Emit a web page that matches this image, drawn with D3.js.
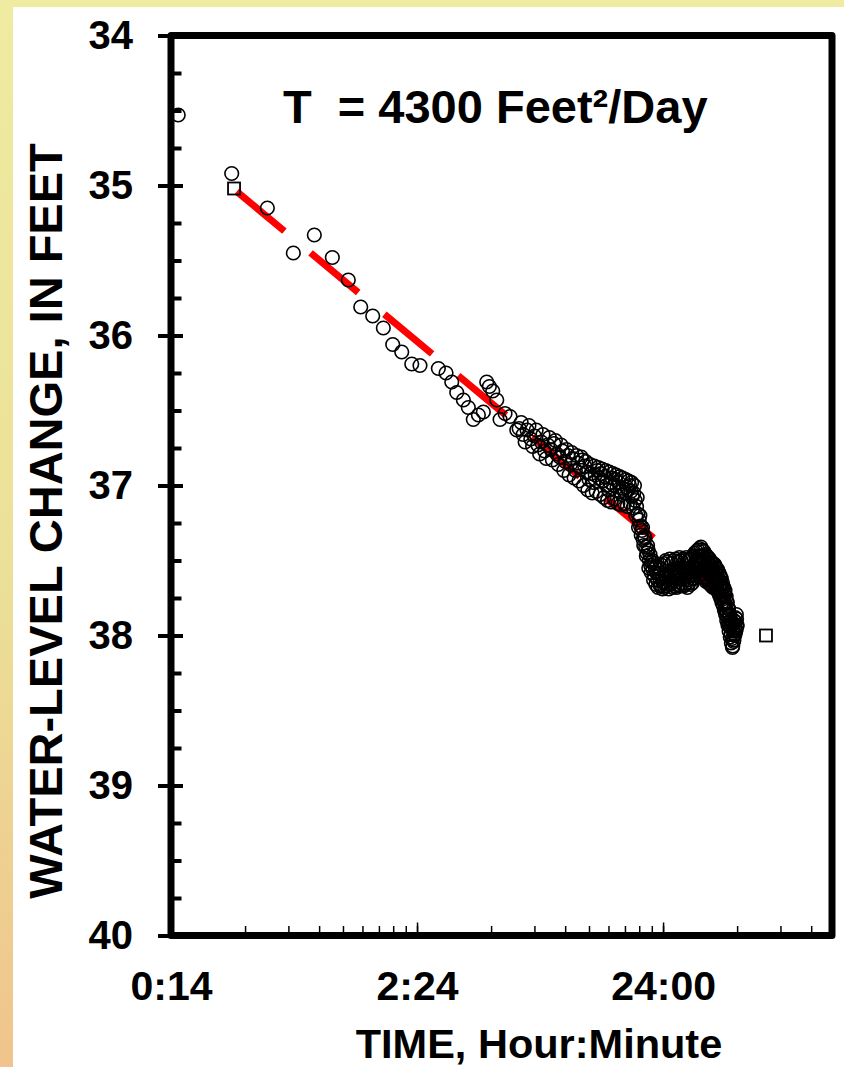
<!DOCTYPE html>
<html>
<head>
<meta charset="utf-8">
<script src="https://cdn.jsdelivr.net/npm/d3@7"></script>
<style>
html,body{margin:0;padding:0;}
body{width:844px;height:1067px;overflow:hidden;}
text{font-family:"Liberation Sans",Arial,Helvetica,sans-serif;font-weight:bold;fill:#000;}
</style>
</head>
<body>
<div id="chart"></div>
<script>
// measured water levels, time in days since pumping started
var obsTime = [
  0.0107,0.01765,0.02464,0.03142,0.03824,0.04526,0.05256,0.05904,0.06604,0.07295,
  0.07964,0.08666,0.09517,0.1028,0.1221,0.1312,0.1384,0.1450,0.1543,0.1616,
  0.1693,0.1776,0.1860,0.1920,0.1968,0.2031,0.2109,0.2175,0.2279,0.2388,0.2543,
  0.26,0.27,0.28,0.29,0.30,0.31,0.32,0.33,0.34,0.35,
  0.36,0.37,0.38,0.39,0.40,0.41,0.42,0.43,0.44,0.45,
  0.46,0.47,0.48,0.49,0.50,0.51,0.52,0.53,0.54,0.55,
  0.56,0.57,0.58,0.59,0.60,0.61,0.62,0.63,0.64,0.65,
  0.66,0.67,0.68,0.69,0.70,0.71,0.72,0.73,0.74,0.75,
  0.76,0.77,0.78,0.79,0.80,
  0.81,0.82,0.83,0.84,0.85,0.86,0.87,0.88,0.89,0.90,
  0.91,0.92,0.93,0.94,0.95,0.96,0.97,0.98,0.99,1.00,
  1.01,1.02,1.03,1.04,1.05,1.06,1.07,1.08,1.09,1.10,
  1.11,1.12,1.13,1.14,1.15,1.16,1.17,1.18,1.19,1.20,
  1.21,1.22,1.23,1.24,1.25,1.26,1.27,1.28,1.29,1.30,
  1.31,1.32,1.33,1.34,1.35,1.36,1.37,1.38,1.39,1.40,
  1.41,1.42,1.43,1.44,1.45,1.46,1.47,1.48,1.49,1.50,
  1.51,1.52,1.53,1.54,1.55,1.56,1.57,1.58,1.59,1.60,
  1.61,1.62,1.63,1.64,1.65,1.66,1.67,1.68,1.69,1.70,
  1.71,1.72,1.73,1.74,1.75,1.76,1.77,1.78,1.79,1.80,
  1.81,1.82,1.83,1.84,1.85,1.86,1.87,1.88,1.89,1.90,
  1.91,1.92,1.93,1.94,1.95,1.96,1.97,1.98,1.99,2.00
];
var obsLevel = [
  34.53,34.92,35.15,35.45,35.33,35.48,35.63,35.81,35.87,35.95,
  36.06,36.11,36.19,36.20,36.22,36.25,36.31,36.38,36.43,36.48,
  36.56,36.53,36.51,36.31,36.34,36.37,36.43,36.56,36.52,36.54,36.63,
  36.62,36.66,36.63,36.69,36.67,36.73,36.71,36.77,36.73,36.76,
  36.72,36.79,36.81,36.77,36.84,36.80,36.86,36.82,36.90,36.85,
  36.88,36.83,36.87,36.91,36.96,36.92,36.98,36.93,36.90,36.95,
  36.92,36.97,36.94,37.00,37.03,36.98,36.95,37.00,36.96,37.01,
  36.98,37.04,37.06,37.02,37.05,37.01,37.03,37.00,37.04,37.07,
  37.05,37.10,37.14,37.19,37.23,
  37.27,37.30,37.36,37.34,37.41,37.45,37.43,37.50,37.53,37.51,
  37.56,37.60,37.55,37.58,37.63,37.59,37.62,37.66,37.61,37.64,
  37.65,37.60,37.57,37.62,37.66,37.61,37.58,37.63,37.60,37.56,
  37.61,37.57,37.62,37.59,37.55,37.60,37.57,37.62,37.58,37.55,
  37.60,37.57,37.61,37.56,37.59,37.63,37.58,37.55,37.60,37.57,
  37.62,37.59,37.55,37.58,37.54,37.51,37.55,37.49,37.53,37.47,
  37.52,37.47,37.51,37.52,37.47,37.51,37.55,37.49,37.53,37.56,
  37.50,37.54,37.58,37.52,37.56,37.60,37.54,37.58,37.62,37.56,
  37.60,37.64,37.58,37.62,37.66,37.60,37.64,37.68,37.63,37.66,
  37.70,37.65,37.69,37.73,37.68,37.74,37.78,37.73,37.79,37.83,
  37.77,37.84,37.88,37.82,37.89,37.93,37.87,37.94,37.99,37.93,
  38.02,38.07,37.97,38.03,37.95,37.99,37.91,37.96,37.89,37.93
];
// readings logged between the ones above
var obsTimeB = [
  0.265,0.275,0.285,0.295,0.305,0.315,0.325,0.335,0.345,0.355,
  0.365,0.375,0.385,0.395,0.405,0.415,0.425,0.435,0.445,0.455,
  0.465,0.475,0.485,0.495,0.505,0.515,0.525,0.535,0.545,0.555,
  0.565,0.575,0.585,0.595,0.605,0.615,0.625,0.635,0.645,0.655,
  0.665,0.675,0.685,0.695,0.705,0.715,0.725,0.735,0.745,0.755,
  0.765,0.775,0.785,0.795,
  0.805,0.815,0.825,0.835,0.845,0.855,0.865,0.875,0.885,0.895,
  0.905,0.915,0.925,0.935,0.945,0.955,0.965,0.975,0.985,0.995,
  1.005,1.015,1.025,1.035,1.045,1.055,1.065,1.075,1.085,1.095,
  1.105,1.115,1.125,1.135,1.145,1.155,1.165,1.175,1.185,1.195,
  1.205,1.215,1.225,1.235,1.245,1.255,1.265,1.275,1.285,1.295,
  1.305,1.315,1.325,1.335,1.345,1.355,1.365,1.375,1.385,1.395,
  1.405,1.415,1.425,1.435,1.445,1.455,1.465,1.475,1.485,1.495,
  1.505,1.515,1.525,1.535,1.545,1.555,1.565,1.575,1.585,1.595,
  1.605,1.615,1.625,1.635,1.645,1.655,1.665,1.675,1.685,1.695,
  1.705,1.715,1.725,1.735,1.745,1.755,1.765,1.775,1.785,1.795,
  1.805,1.815,1.825,1.835,1.845,1.855,1.865,1.875,1.885,1.895,
  1.905,1.915,1.925,1.935,1.945,1.955,1.965,1.975,1.985,1.995
];
var obsLevelB = [
  36.58,36.71,36.60,36.74,36.63,36.79,36.66,36.82,36.68,36.83,
  36.70,36.86,36.73,36.90,36.76,36.93,36.78,36.95,36.80,36.97,
  36.81,37.00,36.84,37.03,36.86,37.05,36.87,37.04,36.88,37.06,
  36.89,37.08,36.90,37.10,36.91,37.11,36.92,37.09,36.93,37.12,
  36.94,37.13,36.95,37.12,36.96,37.14,36.97,37.12,36.98,37.15,
  37.00,37.20,37.08,37.28,
  37.20,37.33,37.28,37.40,37.35,37.47,37.40,37.55,37.46,37.58,
  37.50,37.63,37.52,37.66,37.54,37.68,37.55,37.67,37.53,37.69,
  37.52,37.68,37.50,37.67,37.51,37.69,37.49,37.66,37.52,37.68,
  37.50,37.67,37.49,37.68,37.51,37.66,37.48,37.67,37.50,37.65,
  37.49,37.67,37.50,37.66,37.48,37.68,37.50,37.65,37.49,37.66,
  37.48,37.65,37.47,37.62,37.45,37.60,37.44,37.58,37.43,37.56,
  37.42,37.57,37.41,37.59,37.43,37.61,37.44,37.62,37.46,37.64,
  37.47,37.63,37.48,37.65,37.49,37.66,37.51,37.67,37.52,37.68,
  37.52,37.66,37.53,37.68,37.55,37.69,37.56,37.71,37.58,37.73,
  37.60,37.75,37.62,37.78,37.65,37.80,37.68,37.83,37.70,37.86,
  37.74,37.90,37.78,37.93,37.82,37.97,37.86,38.01,37.90,38.05,
  37.93,38.08,37.92,38.04,37.90,38.00,37.88,37.97,37.86,37.94
];
// square markers
var sqTime = [0.01804, 2.62];
var sqLevel = [35.02, 38.00];
// straight-line fit (red dashed)
var fitTime = [0.0185, 2.06];
var fitLevel = [35.04, 37.83];

var xTickValues = [0.01, 0.1, 1];
var xTickLabels = ['0:14', '2:24', '24:00'];
var yTickValues = [34, 35, 36, 37, 38, 39, 40];
var yMinorTicks = [34.25,34.5,34.75,35.25,35.5,35.75,36.25,36.5,36.75,37.25,37.5,37.75,
                   38.25,38.5,38.75,39.25,39.5,39.75];
var annotation = 'T\u00a0 = 4300 Feet\u00b2/Day';

const width = 844, height = 1067;
const plotLeft = 171, plotRight = 832, plotTop = 35.5, plotBottom = 935.5;

var svg = d3.select('#chart').append('svg')
    .attr('width', width).attr('height', height);

var defs = svg.append('defs');
var grad = defs.append('linearGradient').attr('id', 'bg')
    .attr('x1', 0).attr('y1', 0).attr('x2', 0).attr('y2', 1);
grad.append('stop').attr('offset', '0').attr('stop-color', '#efeba0');
grad.append('stop').attr('offset', '0.55').attr('stop-color', '#ebe097');
grad.append('stop').attr('offset', '1').attr('stop-color', '#f0c48c');
svg.append('rect').attr('width', width).attr('height', height).attr('fill', 'url(#bg)');
svg.append('rect').attr('x', 13).attr('y', 7)
    .attr('width', width - 13).attr('height', height - 7).attr('fill', '#fff');

var x = d3.scaleLog().domain([0.01, 4.86]).range([plotLeft, plotRight]);
var y = d3.scaleLinear().domain([34, 40]).range([plotTop, plotBottom]);

// fit line
var line = d3.line().x(function(d){return x(d[0]);}).y(function(d){return y(d[1]);});
svg.append('path')
    .datum(fitTime.map(function(t, i){return [t, fitLevel[i]];}))
    .attr('d', line)
    .attr('fill', 'none')
    .attr('stroke', '#ff0000')
    .attr('stroke-width', 7)
    .attr('stroke-dasharray', '62,34');

// observed points
var pts = obsTime.map(function(t, i){return [t, obsLevel[i]];})
    .concat(obsTimeB.map(function(t, i){return [t, obsLevelB[i]];}));
svg.append('g').selectAll('circle')
    .data(pts)
    .enter().append('circle')
    .attr('cx', function(d){return x(d[0]);})
    .attr('cy', function(d){return y(d[1]);})
    .attr('r', 6.8)
    .attr('fill', 'none')
    .attr('stroke', '#000')
    .attr('stroke-width', 1.6);

svg.append('g').selectAll('rect')
    .data(sqTime.map(function(t, i){return [t, sqLevel[i]];}))
    .enter().append('rect')
    .attr('x', function(d){return x(d[0]) - 6;})
    .attr('y', function(d){return y(d[1]) - 6;})
    .attr('width', 12).attr('height', 12)
    .attr('fill', 'none')
    .attr('stroke', '#000')
    .attr('stroke-width', 1.8);

// frame
svg.append('rect')
    .attr('x', plotLeft).attr('y', plotTop)
    .attr('width', plotRight - plotLeft).attr('height', plotBottom - plotTop)
    .attr('fill', 'none').attr('stroke', '#000')
    .attr('stroke-width', 7).attr('stroke-linejoin', 'round');

// y axis: outer major ticks with labels
var yOut = svg.append('g').attr('transform', 'translate(' + plotLeft + ',0)')
    .call(d3.axisLeft(y).tickValues(yTickValues).tickSize(13).tickPadding(25)
        .tickFormat(d3.format('d')));
// y axis: inner ticks
var yInMajor = svg.append('g').attr('transform', 'translate(' + plotLeft + ',0)')
    .call(d3.axisRight(y).tickValues(yTickValues).tickSize(12).tickFormat(''));
var yInMinor = svg.append('g').attr('transform', 'translate(' + plotLeft + ',0)')
    .call(d3.axisRight(y).tickValues(yMinorTicks).tickSize(10.5).tickFormat(''));
[yOut, yInMajor, yInMinor].forEach(function(g){
    g.select('.domain').remove();
    g.selectAll('line').attr('stroke', '#000').attr('stroke-width', 4);
});
yOut.selectAll('text').style('font-size', '40px');

// x axis: log ticks inside
var xMinor = svg.append('g').attr('transform', 'translate(0,' + plotBottom + ')')
    .call(d3.axisTop(x).tickValues(x.ticks()).tickSize(9.5).tickFormat(''));
var xMajor = svg.append('g').attr('transform', 'translate(0,' + plotBottom + ')')
    .call(d3.axisTop(x).tickValues(xTickValues).tickSize(13).tickFormat(''));
var xLab = svg.append('g').attr('transform', 'translate(0,' + plotBottom + ')')
    .call(d3.axisBottom(x).tickValues(xTickValues).tickSize(0).tickPadding(35)
        .tickFormat(function(d, i){return xTickLabels[i];}));
[xMinor, xMajor, xLab].forEach(function(g){
    g.select('.domain').remove();
    g.selectAll('line').attr('stroke', '#000').attr('stroke-width', 1.5);
});
xLab.selectAll('text').style('font-size', '41px');
svg.selectAll('.tick text').attr('fill', '#000').style('font-family', '"Liberation Sans",Arial,sans-serif');

// titles
svg.append('text')
    .attr('transform', 'translate(62,521) rotate(-90)')
    .attr('text-anchor', 'middle')
    .style('font-size', '47px')
    .text('WATER-LEVEL CHANGE, IN FEET');
svg.append('text')
    .attr('x', 539).attr('y', 1058)
    .attr('text-anchor', 'middle')
    .style('font-size', '41.5px')
    .text('TIME, Hour:Minute');
svg.append('text')
    .attr('x', 283).attr('y', 123)
    .style('font-size', '47px')
    .text(annotation);
</script>
</body>
</html>
